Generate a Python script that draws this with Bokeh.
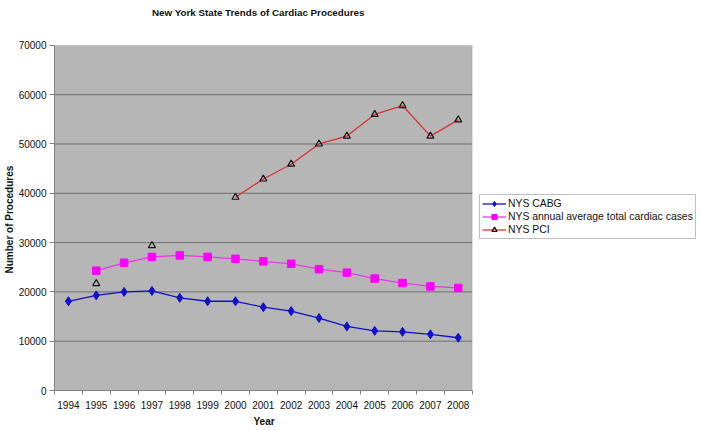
from bokeh.plotting import figure
from bokeh.models import (Range1d, FixedTicker, Legend, LegendItem, ColumnDataSource,
                          BoxAnnotation, Label, Title)
from bokeh.embed import file_html
from bokeh.resources import INLINE

years = [1994, 1995, 1996, 1997, 1998, 1999, 2000, 2001, 2002, 2003, 2004, 2005, 2006, 2007, 2008]
nan = float("nan")
cabg = [18100, 19300, 20000, 20200, 18800, 18100, 18100, 16900, 16100, 14700, 13000, 12100, 11900, 11400, 10700]
total = [nan, 24300, 25900, 27100, 27400, 27100, 26700, 26200, 25700, 24600, 23900, 22700, 21800, 21100, 20800]
pci = [nan, 21700, nan, 29400, nan, nan, 39200, 42900, 45900, 50000, 51600, 56000, 57800, 51600, 54900]
y_ticks = [0, 10000, 20000, 30000, 40000, 50000, 60000, 70000]
title_text = "New York State Trends of Cardiac Procedures"
x_title = "Year"
y_title = "Number of Procedures"

FONT = "Liberation Sans"
x_lo = years[0] - 0.5
x_hi = years[-1] + 0.5
y_lo = y_ticks[0]
y_hi = y_ticks[-1]

W, H = 700, 428
FRAME_L, FRAME_B = 55, 391          # expected frame left / bottom (px)
PLOT_R, PLOT_T = 472, 45            # reference plot-area right / top (px)
x_end = x_lo + (x_hi - x_lo) * (W - FRAME_L) / (PLOT_R - FRAME_L)
y_end = y_hi * FRAME_B / (FRAME_B - PLOT_T)

p = figure(width=W, height=H, output_backend="svg", toolbar_location=None,
           x_range=Range1d(x_lo, x_end), y_range=Range1d(y_lo, y_end),
           min_border_top=0, min_border_left=0, min_border_bottom=0,
           min_border_right=0)

p.background_fill_color = "white"
p.border_fill_color = "white"
p.outline_line_color = None
p.xgrid.grid_line_color = None
p.ygrid.grid_line_color = None

# plot area
p.add_layout(BoxAnnotation(left=x_lo, right=x_hi, bottom=y_lo, top=y_hi,
                           fill_color="#b6b6b6", fill_alpha=1.0,
                           line_color="#8a8a8a", line_width=1, level="underlay"))
p.segment(x0=x_lo, x1=x_hi, y0=y_ticks[1:-1], y1=y_ticks[1:-1],
          line_color="#6e6e6e", line_width=1)

# axes
p.yaxis.ticker = FixedTicker(ticks=y_ticks)
p.xaxis.ticker = FixedTicker(ticks=years, minor_ticks=[y - 0.5 for y in years] + [x_hi])
p.xaxis.bounds = (x_lo, x_hi)
p.yaxis.bounds = (y_lo, y_hi)
for ax in (p.xaxis, p.yaxis):
    ax.axis_line_color = "#808080"
    ax.major_label_text_font = FONT
    ax.major_label_text_font_size = "10px"
    ax.major_label_text_color = "#111111"
    ax.major_tick_line_color = "#808080"
    ax.minor_tick_line_color = "#808080"
    ax.formatter.use_scientific = False

p.xaxis.major_tick_out = 0
p.xaxis.major_tick_in = 0
p.xaxis.minor_tick_out = 4
p.xaxis.minor_tick_in = 0
p.xaxis.major_label_standoff = 6

p.yaxis.major_tick_out = 5
p.yaxis.major_tick_in = 0
p.yaxis.minor_tick_out = 0
p.yaxis.minor_tick_in = 0
p.yaxis.major_label_standoff = 3

# axis titles (placed over the plot area, not the whole frame)
xt = Title(text=x_title, align="left", offset=199, standoff=4,
           text_font=FONT, text_font_size="10px", text_font_style="bold",
           text_color="#111111")
p.add_layout(xt, "below")
yt = Title(text=y_title, align="left", offset=117, standoff=2,
           text_font=FONT, text_font_size="10px", text_font_style="bold",
           text_color="#111111")
p.add_layout(yt, "left")

# chart title
p.add_layout(Label(x=(x_lo + x_hi) / 2, y=y_end, y_offset=-12, x_offset=-5,
                   text=title_text, text_font=FONT, text_font_size="9.8px",
                   text_font_style="bold", text_color="#111111",
                   text_align="center", text_baseline="middle"))

src = ColumnDataSource(dict(x=years, cabg=cabg, total=total, pci=pci))

l1 = p.line("x", "cabg", source=src, line_color="#1010c8", line_width=1.3)
m1 = p.scatter("x", "cabg", source=src, marker="diamond", size=9,
               fill_color="#1010c8", line_color="#1010c8")
l2 = p.line("x", "total", source=src, line_color="#e838e8", line_width=1.3)
m2 = p.scatter("x", "total", source=src, marker="square", size=7.5,
               fill_color="#ff00ff", line_color="#ff00ff")
l3 = p.line("x", "pci", source=src, line_color="#dd3030", line_width=1.3)
m3 = p.scatter("x", "pci", source=src, marker="triangle", size=7,
               fill_alpha=0, line_color="#111111", line_width=1.2)

legend = Legend(items=[
    LegendItem(label="NYS CABG", renderers=[l1, m1]),
    LegendItem(label="NYS annual average total cardiac cases", renderers=[l2, m2]),
    LegendItem(label="NYS PCI", renderers=[l3, m3]),
], location=(425, 151))
legend.label_text_font = FONT
legend.label_text_font_size = "10.4px"
legend.label_text_color = "#111111"
legend.label_height = 13
legend.label_standoff = 2
legend.glyph_width = 24
legend.glyph_height = 13
legend.spacing = 0
legend.padding = 2
legend.margin = 0
legend.border_line_color = "#808080"
legend.border_line_width = 1
legend.background_fill_color = "white"
p.add_layout(legend, "center")

open("out.html", "w").write(file_html(p, INLINE))
